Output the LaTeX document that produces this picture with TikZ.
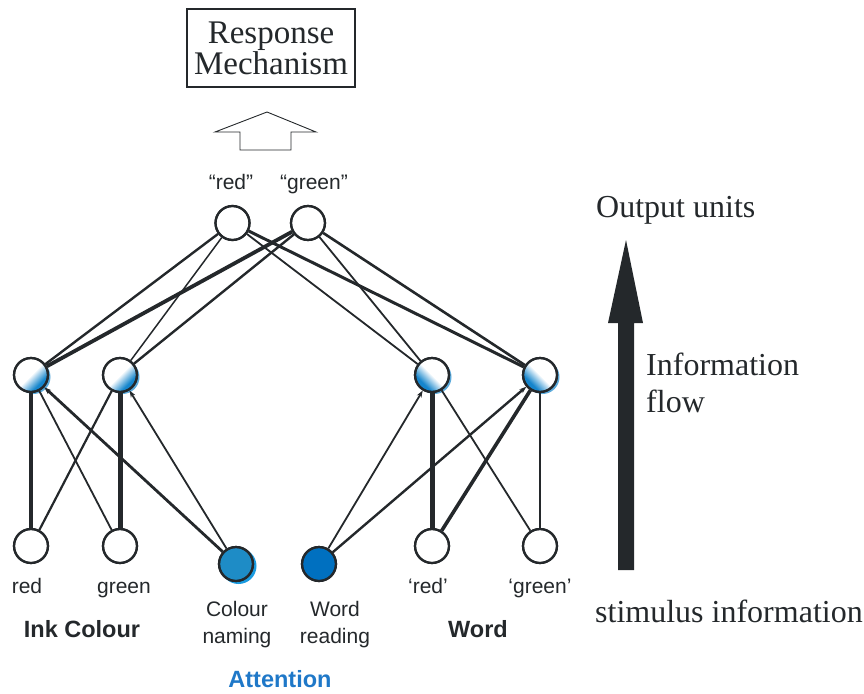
\documentclass[tikz,border=0pt]{standalone}
\usepackage{fontspec}
\setmainfont{Liberation Serif}
\setsansfont{Liberation Sans}
\usetikzlibrary{arrows.meta}
\definecolor{linec}{HTML}{24282B}
\definecolor{hidblue}{HTML}{1585CC}
\definecolor{cnblue}{HTML}{1E8CC6}
\definecolor{cnshadow}{HTML}{1A9BE0}
\definecolor{wrblue}{HTML}{0070C0}
\definecolor{attblue}{HTML}{1F78C8}
% white fading into blue towards one side of a unit
\pgfdeclareverticalshading{hidshade}{100bp}{%
  color(0bp)=(hidblue); color(32bp)=(hidblue); color(42bp)=(hidblue!45);
  color(50bp)=(white); color(100bp)=(white)}
\tikzset{
  unit/.style={circle, draw=linec, line width=2.2pt, minimum size=34pt, inner sep=0pt, fill=white},
  hiddenL/.style={unit, shading=hidshade, shading angle=45},
  hiddenR/.style={unit, shading=hidshade, shading angle=-45},
  halo/.style={circle, fill=#1, minimum size=34pt, inner sep=0pt, draw=none},
  conn/.style={draw=linec, line width=#1},
  attn/.style={draw=linec, line width=#1, -{Stealth[length=7pt, width=5pt]}},
  sanslab/.style={font=\sffamily\fontsize{21}{25}\selectfont, text=linec, inner sep=0pt},
  boldlab/.style={font=\sffamily\bfseries\fontsize{23.5}{27}\selectfont, text=linec, inner sep=0pt},
  seriflab/.style={font=\fontsize{32}{36}\selectfont, text=linec, inner sep=0pt},
}
\begin{document}
\begin{tikzpicture}[x=1pt, y=-1pt]
\useasboundingbox (0,0) rectangle (864,693);

% response mechanism box and hollow arrow
\node[draw=linec, line width=1.3pt, minimum width=168pt, minimum height=78pt, inner sep=0pt,
      align=center, font=\fontsize{33}{31}\selectfont, text=linec] (resp) at (271,48)
      {Response\\[0pt]Mechanism};
\draw[linec, line width=0.9pt] (267,112) -- (316,132) -- (291,132) -- (291,150)
      -- (240,150) -- (240,132) -- (215,132) -- cycle;

% blue halos behind the hidden and attention units
\foreach \p in {(33.5,377),(122.5,377),(434.5,377),(542.5,377)}
  \node[halo=hidblue!70] at \p {};
\node[halo=cnshadow, minimum size=36pt] at (238.5,566) {};

% output units
\node[unit] (ored) at (232.5,223) {};
\node[unit] (ogreen) at (308,223) {};
\node[sanslab, anchor=base] (lored) at (231,189) {“red”};
\node[sanslab, anchor=base] (logreen) at (314,189) {“green”};

% hidden units
\node[hiddenL] (h1) at (31,375) {};
\node[hiddenL] (h2) at (120,375) {};
\node[hiddenR] (h3) at (432,375) {};
\node[hiddenR] (h4) at (540,375) {};

% input units
\node[unit] (ired) at (31,546) {};
\node[unit] (igreen) at (120,546) {};
\node[unit, fill=cnblue] (cn) at (236,564) {};
\node[unit, fill=wrblue] (wr) at (319,564) {};
\node[unit] (wred) at (432,546) {};
\node[unit] (wgreen) at (540,546) {};

% connections: output <-> hidden
\draw[conn=2.4pt] (ored) -- (h1);
\draw[conn=1.5pt] (ored) -- (h2);
\draw[conn=1.8pt] (ored) -- (h3);
\draw[conn=3.0pt] (ored) -- (h4);
\draw[conn=3.8pt] (ogreen) -- (h1);
\draw[conn=2.4pt] (ogreen) -- (h2);
\draw[conn=1.8pt] (ogreen) -- (h3);
\draw[conn=2.6pt] (ogreen) -- (h4);

% connections: input <-> hidden
\draw[conn=4.5pt] (ired) -- (h1);
\draw[conn=2.2pt] (ired) -- (h2);
\draw[conn=1.8pt] (igreen) -- (h1);
\draw[conn=5pt] (igreen) -- (h2);
\draw[conn=5pt] (wred) -- (h3);
\draw[conn=3.6pt] (wred) -- (h4);
\draw[conn=1.8pt] (wgreen) -- (h3);
\draw[conn=1.8pt] (wgreen) -- (h4);

% attention connections
\draw[attn=2.8pt] (cn) -- (h1);
\draw[attn=1.8pt] (cn) -- (h2);
\draw[attn=1.8pt] (wr) -- (h3);
\draw[attn=2.4pt] (wr) -- (h4);

% redraw unit outlines on top of line ends
\foreach \n in {ored,ogreen,ired,igreen,wred,wgreen,cn,wr,h1,h2,h3,h4}
  \draw[linec, line width=2.2pt] (\n.center) circle (17pt);

% input labels
\node[sanslab, anchor=base] (tred) at (27,593) {red};
\node[sanslab, anchor=base] (tgreen) at (124,593) {green};
\node[sanslab, anchor=base] (twred) at (428,593) {‘red’};
\node[sanslab, anchor=base] (twgreen) at (540,593) {‘green’};
\node[sanslab, anchor=base] (tcn) at (237,616) {Colour};
\node[sanslab, anchor=base] (tcn2) at (237,643) {naming};
\node[sanslab, anchor=base] (twr) at (335,616) {Word};
\node[sanslab, anchor=base] (twr2) at (335,643) {reading};
\node[boldlab, anchor=base] (ink) at (82,637) {Ink Colour};
\node[boldlab, anchor=base] (word) at (478,637) {Word};
\node[boldlab, anchor=base, text=attblue] (att) at (280,687) {Attention};

% information-flow arrow and side texts
\fill[linec] (618,570) -- (634,570) -- (634,323) -- (643,323) -- (626,240)
      -- (608,323) -- (618,323) -- cycle;
\node[seriflab, anchor=base west] (outu) at (596,217) {Output units};
\node[seriflab, anchor=base west] (info) at (646,375) {Information};
\node[seriflab, anchor=base west] (flow) at (646,412) {flow};
\node[seriflab, anchor=base west] (stim) at (595,622) {stimulus information};
\end{tikzpicture}
\end{document}
